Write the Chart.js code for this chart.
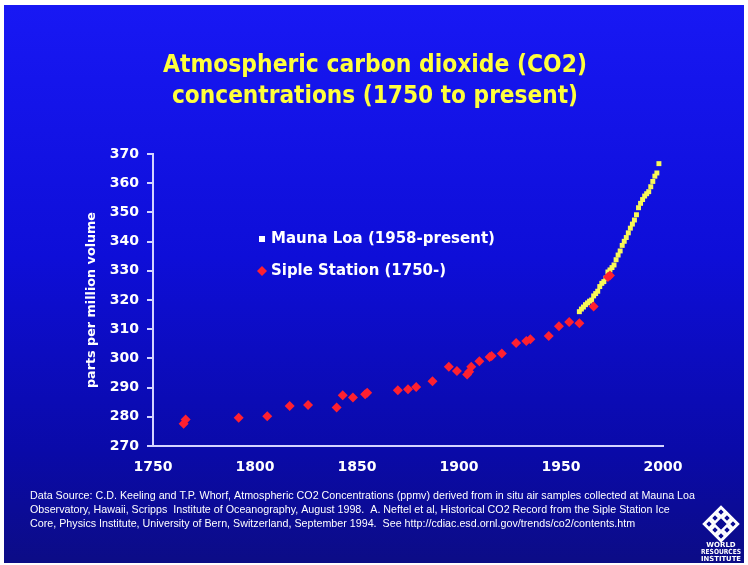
<!DOCTYPE html>
<html>
<head>
<meta charset="utf-8">
<title>Atmospheric carbon dioxide</title>
<script src="https://cdn.jsdelivr.net/npm/chart.js"></script>
<style>
html, body { margin: 0; padding: 0; background: #fff; }
canvas { display: block; }
</style>
</head>
<body>
<canvas id="co2Chart" width="748" height="565"></canvas>
<script>
// Siple Station ice core (red diamonds)
const sipleYears = [1765, 1766, 1792, 1806, 1817, 1826, 1840, 1843, 1848, 1854, 1855,
    1870, 1875, 1879, 1887, 1895, 1899, 1904, 1905, 1906, 1910, 1915, 1916, 1921,
    1928, 1933, 1935, 1944, 1949, 1954, 1959, 1966, 1973, 1974];
const sipleValues = [277.6, 279.1, 279.7, 280.2, 283.7, 284.0, 283.2, 287.4, 286.6, 287.7, 288.2,
    289.1, 289.4, 290.2, 292.2, 297.1, 295.7, 294.5, 295.4, 297.1, 299.0, 300.5, 300.8, 301.7,
    305.3, 306.0, 306.6, 307.7, 311.0, 312.5, 312.0, 317.8, 327.9, 328.4];

// Mauna Loa annual means (yellow squares)
const maunaYears = [1959, 1960, 1961, 1962, 1963, 1964, 1965, 1966, 1967, 1968, 1969,
    1970, 1971, 1972, 1973, 1974, 1975, 1976, 1977, 1978, 1979, 1980, 1981, 1982, 1983,
    1984, 1985, 1986, 1987, 1988, 1989, 1990, 1991, 1992, 1993, 1994, 1995, 1996, 1997, 1998];
const maunaValues = [316.0, 316.9, 317.6, 318.4, 319.0, 319.6, 320.0, 321.4, 322.2, 323.0, 324.6,
    325.7, 326.3, 327.5, 329.6, 330.3, 331.1, 332.0, 333.8, 335.4, 336.8, 338.7, 340.1, 341.4, 343.0,
    344.6, 346.0, 347.4, 349.2, 351.6, 353.1, 354.4, 355.6, 356.4, 357.1, 358.8, 360.6, 362.4, 363.5, 366.7];

const xTicks = [1750, 1800, 1850, 1900, 1950, 2000];
const yTicks = [270, 280, 290, 300, 310, 320, 330, 340, 350, 360, 370];

const titleLines = ['Atmospheric carbon dioxide (CO2)', 'concentrations (1750 to present)'];
const legendLabels = ['Mauna Loa (1958-present)', 'Siple Station (1750-)'];
const yAxisTitle = 'parts per million volume';
const sourceLines = [
    'Data Source: C.D. Keeling and T.P. Whorf, Atmospheric CO2 Concentrations (ppmv) derived from in situ air samples collected at Mauna Loa',
    'Observatory, Hawaii, Scripps  Institute of Oceanography, August 1998.  A. Neftel et al, Historical CO2 Record from the Siple Station Ice',
    'Core, Physics Institute, University of Bern, Switzerland, September 1994.  See http://cdiac.esd.ornl.gov/trends/co2/contents.htm'
];
const logoLines = ['WORLD', 'RESOURCES', 'INSTITUTE'];

const axisColor = '#d4d4ff';
const boldFont = 'DejaVu Sans';

function toPoints(xs, ys) {
    return xs.map((x, i) => ({ x: x, y: ys[i] }));
}

// slide background
const backgroundPlugin = {
    id: 'slideBackground',
    beforeDraw(chart) {
        const c = chart.ctx;
        c.save();
        c.fillStyle = '#fff';
        c.fillRect(0, 0, chart.width, chart.height);
        const g = c.createLinearGradient(0, 5, 0, 563);
        g.addColorStop(0, '#1818f4');
        g.addColorStop(0.45, '#0e0ed8');
        g.addColorStop(0.8, '#0a0aa8');
        g.addColorStop(1, '#0c0c86');
        c.fillStyle = g;
        c.fillRect(4, 5, 740, 558);
        c.restore();
    }
};

// title, legend, axis title, source notes and logo
const textPlugin = {
    id: 'slideText',
    afterDraw(chart) {
        const c = chart.ctx;
        c.save();

        c.fillStyle = '#ffff3c';
        c.textAlign = 'center';
        c.textBaseline = 'middle';
        c.font = 'bold 24px ' + boldFont;
        c.fillText(titleLines[0], 375, 66, 424);
        c.fillText(titleLines[1], 375, 97, 406);

        // legend
        c.textAlign = 'left';
        c.fillStyle = '#fff';
        c.font = 'bold 15px ' + boldFont;
        c.fillRect(259, 236, 6, 6);
        c.fillText(legendLabels[0], 271, 239, 224);
        c.fillStyle = '#ff2030';
        c.beginPath();
        c.moveTo(262, 266); c.lineTo(267, 271); c.lineTo(262, 276); c.lineTo(257, 271);
        c.closePath();
        c.fill();
        c.fillStyle = '#fff';
        c.fillText(legendLabels[1], 271, 271, 175);

        // y axis title
        c.save();
        c.translate(92, 300);
        c.rotate(-Math.PI / 2);
        c.textAlign = 'center';
        c.font = 'bold 13px ' + boldFont;
        c.fillText(yAxisTitle, 0, 0, 176);
        c.restore();

        // source notes
        c.font = '11px "Liberation Sans"';
        const sx = 665 / c.measureText(sourceLines[0]).width;
        c.save();
        c.translate(30, 0);
        c.scale(sx, 1);
        c.textAlign = 'left';
        sourceLines.forEach((line, i) => c.fillText(line, 0, 496 + i * 14));
        c.restore();

        // logo
        c.save();
        c.translate(721, 524);
        c.rotate(Math.PI / 4);
        c.strokeStyle = '#fff';
        c.lineWidth = 2.5;
        for (let i = -1; i <= 1; i++) {
            for (let j = -1; j <= 1; j++) {
                if (i === 0 && j === 0) continue;
                c.strokeRect(i * 8.5 - 3.2, j * 8.5 - 3.2, 6.4, 6.4);
            }
        }
        c.strokeRect(-12, -12, 24, 24);
        c.restore();
        c.textAlign = 'center';
        c.font = 'bold 7px ' + boldFont;
        logoLines.forEach((t, i) => c.fillText(t, 721, 545 + i * 7, 40));

        c.restore();
    }
};

const ctx = document.getElementById('co2Chart').getContext('2d');
const co2Chart = new Chart(ctx, {
    type: 'scatter',
    data: {
        datasets: [{
            label: legendLabels[1],
            data: toPoints(sipleYears, sipleValues),
            pointStyle: 'rectRot',
            pointRadius: 5,
            backgroundColor: '#ff2030',
            borderWidth: 0
        }, {
            label: legendLabels[0],
            data: toPoints(maunaYears, maunaValues),
            pointStyle: 'rect',
            pointRadius: 3.5,
            backgroundColor: '#f8f858',
            borderWidth: 0
        }]
    },
    options: {
        responsive: false,
        animation: false,
        layout: { padding: { left: 93, right: 85, top: 154, bottom: 79 } },
        plugins: {
            legend: { display: false },
            title: { display: false },
            tooltip: { enabled: false }
        },
        scales: {
            x: {
                type: 'linear',
                min: 1750,
                max: 2000,
                afterFit: s => { s.height = 40; },
                afterBuildTicks: s => { s.ticks = xTicks.map(v => ({ value: v })); },
                grid: { drawOnChartArea: false, drawTicks: false },
                border: { color: axisColor, width: 2 },
                ticks: {
                    color: '#fff',
                    padding: 13,
                    maxRotation: 0,
                    callback: v => String(v),
                    font: { family: boldFont, weight: 'bold', size: 14 }
                }
            },
            y: {
                min: 270,
                max: 370,
                afterFit: s => { s.width = 60; },
                afterBuildTicks: s => { s.ticks = yTicks.map(v => ({ value: v })); },
                grid: { drawOnChartArea: false, drawTicks: true, tickLength: 6, color: axisColor, lineWidth: 2 },
                border: { color: axisColor, width: 2 },
                ticks: {
                    color: '#fff',
                    padding: 8,
                    callback: v => String(v),
                    font: { family: boldFont, weight: 'bold', size: 14 }
                }
            }
        }
    },
    plugins: [backgroundPlugin, textPlugin]
});
</script>
</body>
</html>
